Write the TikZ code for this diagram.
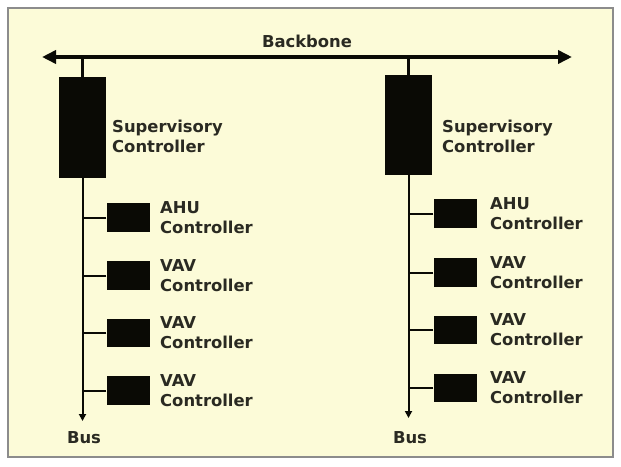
\documentclass[tikz,border=0pt]{standalone}
\usepackage{fontspec}
\setmainfont{DejaVu Sans}
\usetikzlibrary{arrows.meta}
\definecolor{paper}{HTML}{FCFBD8}
\definecolor{framegray}{HTML}{8C8C8C}
\definecolor{ink}{HTML}{0A0A05}
\definecolor{textink}{HTML}{2A2A22}
\tikzset{
  supbox/.style={fill=ink, draw=none, inner sep=0pt, minimum width=47pt, minimum height=101pt},
  unitbox/.style={fill=ink, draw=none, inner sep=0pt, minimum width=43pt, minimum height=28.5pt},
  lbl/.style={font=\bfseries\fontsize{16.4}{20}\selectfont, text=textink, align=left, inner sep=0pt, anchor=west},
  ttl/.style={font=\bfseries\fontsize{16.4}{20}\selectfont, text=textink, inner sep=0pt},
  backbone/.style={draw=ink, line width=3.5pt, {Triangle[length=14pt,width=13pt]}-{Triangle[length=14pt,width=13pt]}},
  riser/.style={draw=ink, line width=3pt},
  busline/.style={draw=ink, line width=2pt, -{Triangle[length=7pt,width=7pt]}},
  stub/.style={draw=ink, line width=2pt}
}
\begin{document}
\begin{tikzpicture}[x=1pt, y=-1pt]
  \useasboundingbox (0,0) rectangle (621,466);
  % panel
  \filldraw[fill=paper, draw=framegray, line width=1.5pt] (8,8) rectangle (613,457);

  % backbone
  \coordinate (bbL) at (42,57);
  \coordinate (bbR) at (572,57);
  \draw[backbone] (bbL) -- (bbR);
  \node[ttl] (bbtext) at (307,41) {Backbone};

  % supervisory controllers
  \node[supbox] (sc1) at (82.5,127.5) {};
  \node[supbox, minimum height=100pt] (sc2) at (408.5,125) {};
  \node[lbl] (sc1t) at (112,136) {Supervisory\\Controller};
  \node[lbl] (sc2t) at (442,136) {Supervisory\\Controller};
  \draw[riser] (sc1.north) -- (sc1.north |- bbL);
  \draw[riser] (sc2.north) -- (sc2.north |- bbL);

  % field buses
  \coordinate (bus1) at (82.5,421);
  \coordinate (bus2) at (408.5,418);
  \draw[busline] (sc1.south) -- (bus1);
  \draw[busline] (sc2.south) -- (bus2);
  \node[ttl] (bus1t) at (84,438) {Bus};
  \node[ttl] (bus2t) at (410,438) {Bus};

  % left controllers
  \node[unitbox] (c11) at (128,217.5) {};
  \node[unitbox] (c12) at (128,275.5) {};
  \node[unitbox] (c13) at (128,333) {};
  \node[unitbox] (c14) at (128,390.5) {};
  \foreach \n in {c11,c12,c13,c14} \draw[stub] (\n.west) -- (\n.west -| bus1);
  \node[lbl] (l11) at (160,217.5) {AHU\\Controller};
  \node[lbl] (l12) at (160,275.5) {VAV\\Controller};
  \node[lbl] (l13) at (160,333) {VAV\\Controller};
  \node[lbl] (l14) at (160,390.5) {VAV\\Controller};

  % right controllers
  \node[unitbox] (c21) at (455,213.5) {};
  \node[unitbox] (c22) at (455,272.5) {};
  \node[unitbox] (c23) at (455,330) {};
  \node[unitbox] (c24) at (455,388) {};
  \foreach \n in {c21,c22,c23,c24} \draw[stub] (\n.west) -- (\n.west -| bus2);
  \node[lbl] (l21) at (490,213.5) {AHU\\Controller};
  \node[lbl] (l22) at (490,272.5) {VAV\\Controller};
  \node[lbl] (l23) at (490,330) {VAV\\Controller};
  \node[lbl] (l24) at (490,388) {VAV\\Controller};
\end{tikzpicture}
\end{document}
